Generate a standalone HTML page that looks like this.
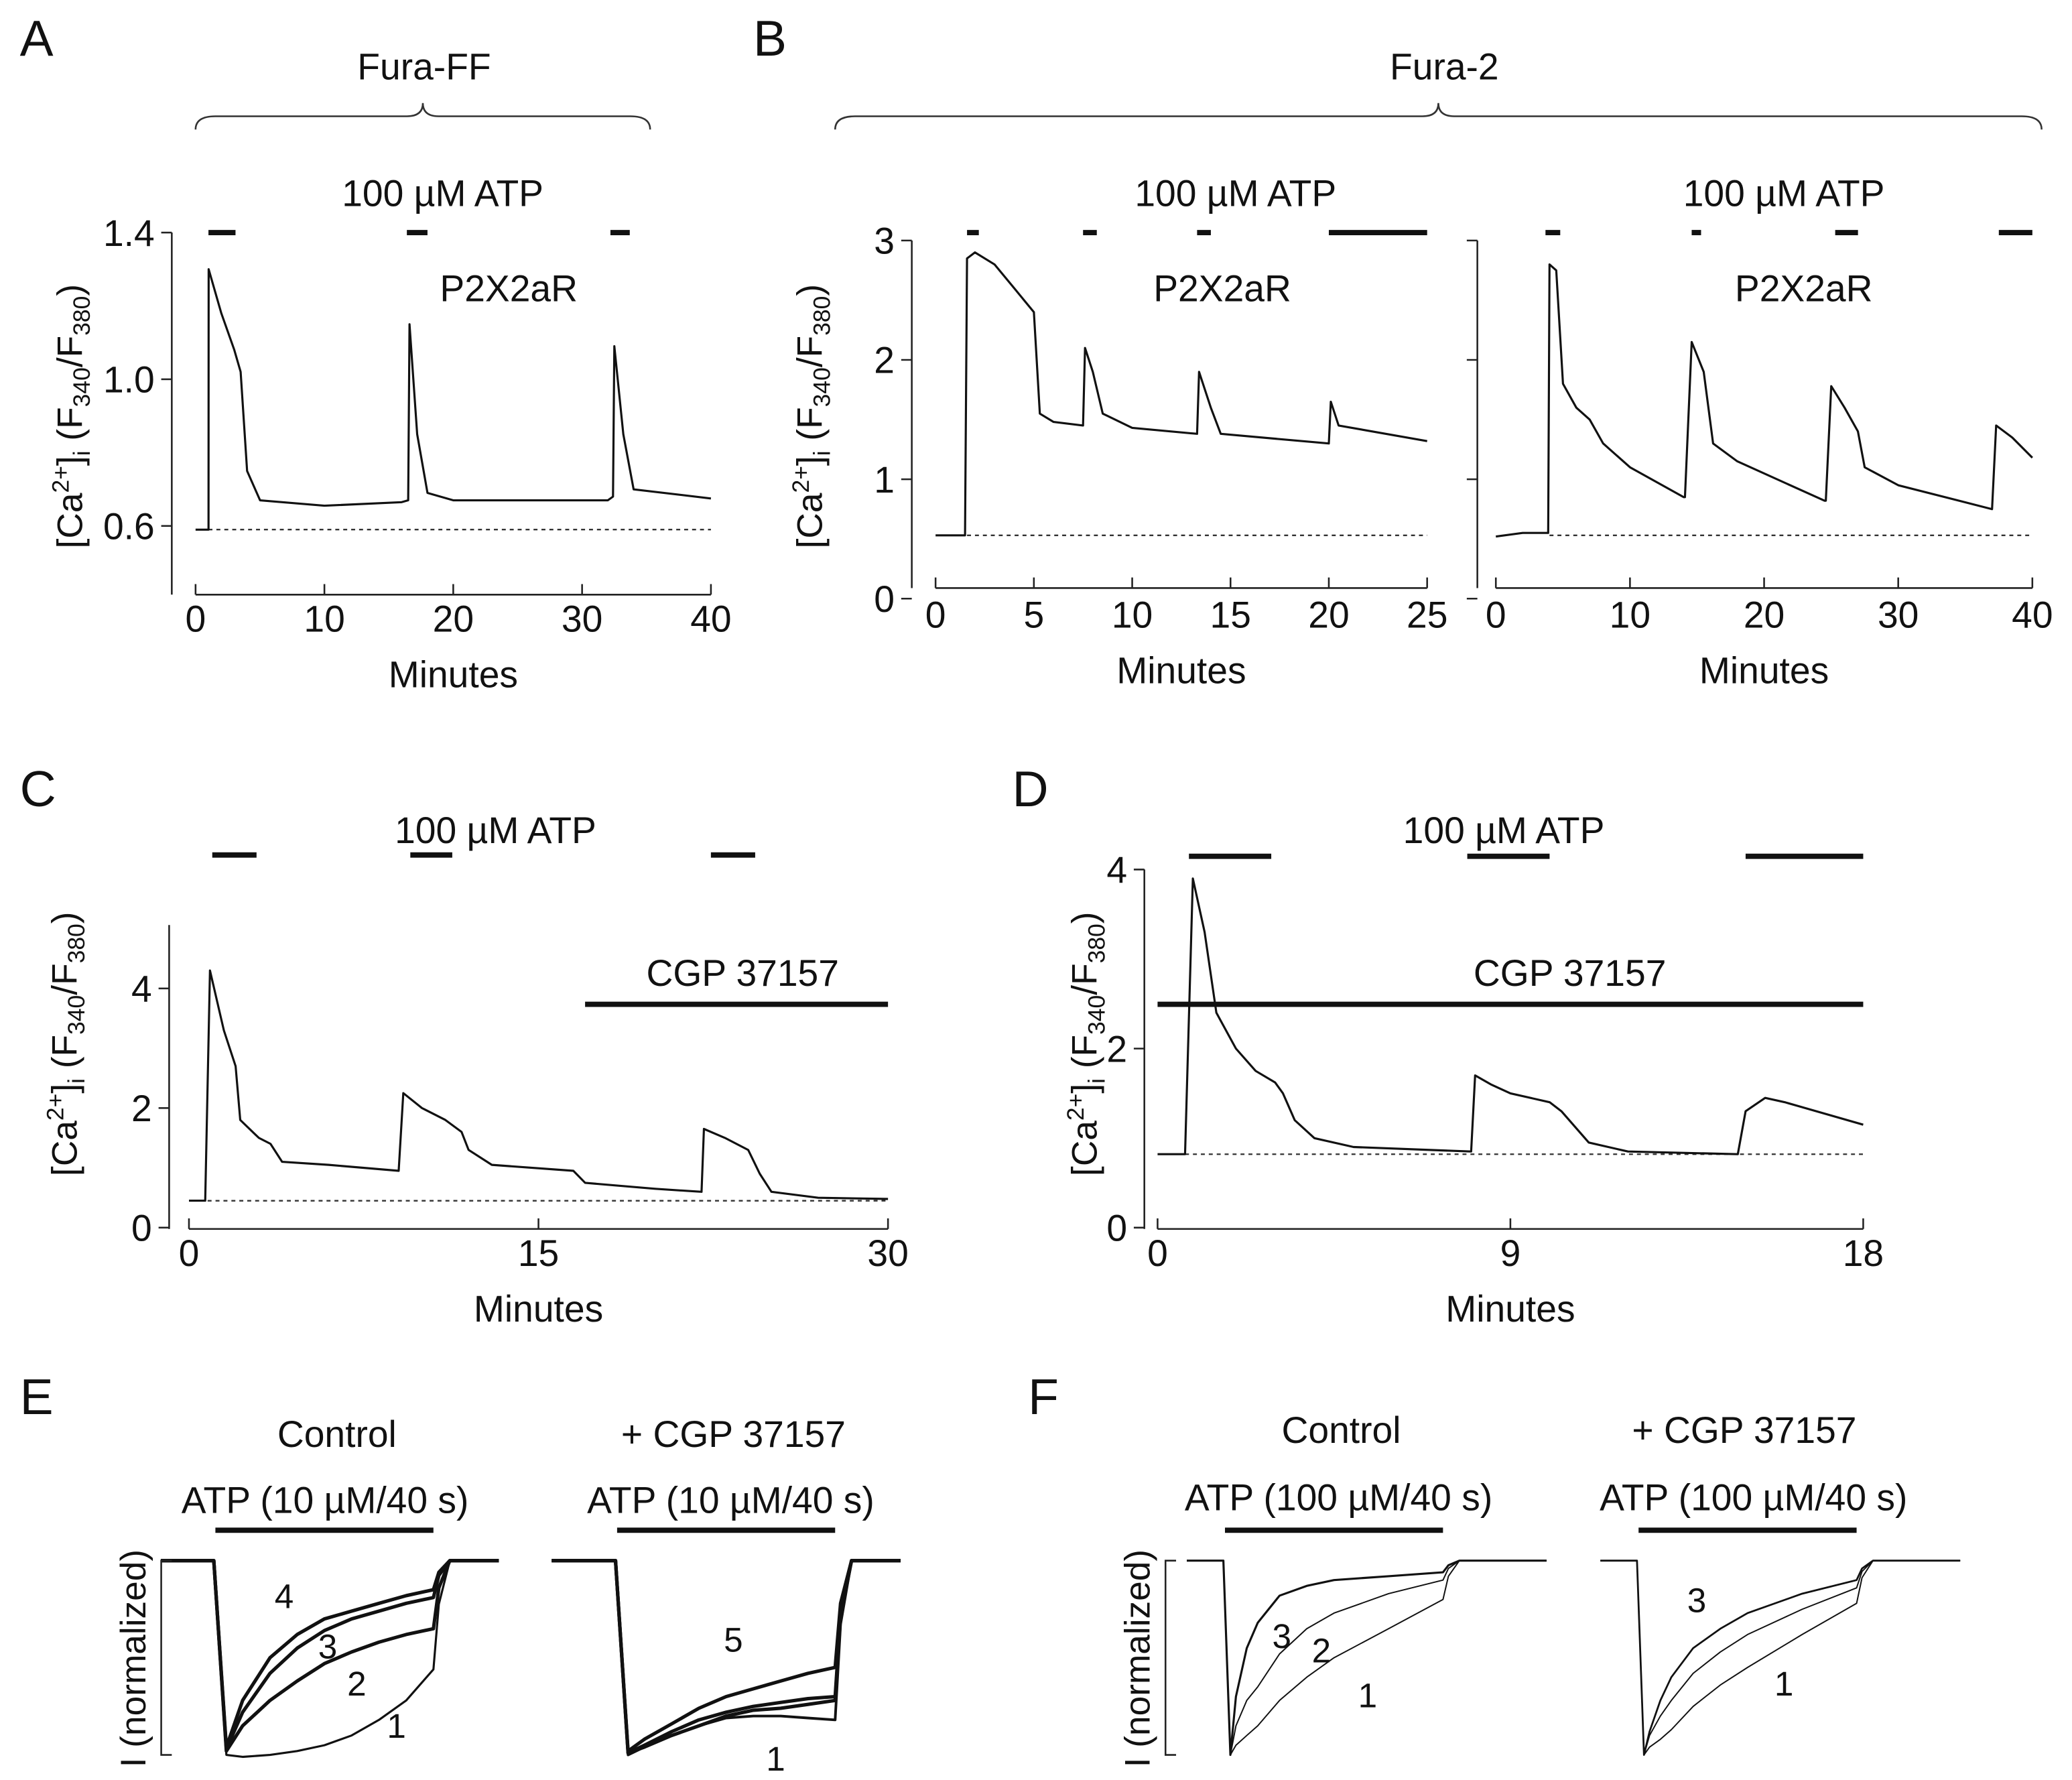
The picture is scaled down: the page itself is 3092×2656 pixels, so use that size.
<!DOCTYPE html>
<html><head><meta charset="utf-8"><style>
html,body{margin:0;padding:0;background:#fff}
svg{display:block}
text{font-family:"Liberation Sans",sans-serif;fill:#111}
</style></head><body>
<svg id="fig" width="3092" height="2656" viewBox="0 0 1568 1347" preserveAspectRatio="none" xmlns="http://www.w3.org/2000/svg">
<g id="root"></g>
</svg>
<script>
// ---------- DATA ----------
const aT=[0,1,1.02,2,3,3.5,4,5,10,16,16.5,16.6,17.2,18,20,32,32.4,32.5,33.2,34,40];
const aV=[0.59,0.59,1.30,1.18,1.08,1.02,0.75,0.67,0.655,0.665,0.67,1.15,0.85,0.69,0.67,0.67,0.68,1.09,0.85,0.70,0.675];
const aBars=[[1,3.1],[16.4,18],[32.2,33.7]];
const aXTicks=[0,10,20,30,40];
const aYTicks=[0.6,1.0,1.4];
const aYLabels=["0.6","1.0","1.4"];

const b1T=[0,1.5,1.6,2,3,4,5,5.3,6,7.5,7.6,8,8.5,10,13.3,13.4,14,14.5,20,20.1,20.5,25];
const b1V=[0.53,0.53,2.85,2.9,2.8,2.6,2.4,1.55,1.48,1.45,2.1,1.9,1.55,1.43,1.38,1.9,1.6,1.38,1.30,1.65,1.45,1.32];
const b1Bars=[[1.6,2.2],[7.5,8.2],[13.3,14],[20,25]];
const b1XTicks=[0,5,10,15,20,25];
const bYTicks=[0,1,2,3];

const b2T=[0,2,3.9,4,4.5,5,6,7,8,10,14,14.1,14.6,15.5,16.2,18,24.5,24.6,25,26,27,27.5,30,37,37.3,38.5,40];
const b2V=[0.52,0.55,0.55,2.8,2.75,1.8,1.6,1.5,1.3,1.1,0.85,0.85,2.15,1.9,1.3,1.15,0.82,0.82,1.78,1.6,1.4,1.1,0.95,0.75,1.45,1.35,1.18];
const b2Bars=[[3.7,4.8],[14.6,15.3],[25.3,27],[37.5,40]];
const b2XTicks=[0,10,20,30,40];

const cT=[0,0.7,0.9,1.5,2,2.2,3,3.5,4,6,9,9.2,10,11,11.7,12,13,16.5,17,20,22,22.1,23,24,24.5,25,27,30];
const cV=[0.45,0.45,4.3,3.3,2.7,1.8,1.5,1.4,1.1,1.05,0.95,2.25,2.0,1.8,1.6,1.3,1.05,0.95,0.75,0.65,0.6,1.65,1.5,1.3,0.9,0.6,0.5,0.48];
const cBars=[[1,2.9],[9.5,11.3],[22.4,24.3]];
const cXTicks=[0,15,30];
const cYTicks=[0,2,4];

const dT=[0,0.7,0.9,1.2,1.5,2,2.5,3,3.2,3.5,4,5,8,8.1,8.5,9,10,10.3,11,12,14.8,15,15.5,16,18];
const dV=[0.82,0.82,3.9,3.3,2.4,2.0,1.75,1.62,1.5,1.2,1.0,0.9,0.85,1.7,1.6,1.5,1.4,1.3,0.95,0.85,0.82,1.3,1.45,1.4,1.15];
const dBars=[[0.8,2.9],[7.9,10],[15,18]];
const dXTicks=[0,9,18];
const dYTicks=[0,2,4];

// current traces: time (s) vs normalized current
const eT=[0,2,5,10,15,20,25,30,35,40];
const e1c1=[-0.6,-1,-1.01,-1.0,-0.98,-0.95,-0.9,-0.82,-0.72,-0.56];
const e1c2=[-0.5,-0.98,-0.85,-0.72,-0.62,-0.53,-0.47,-0.42,-0.38,-0.35];
const e1c3=[-0.5,-0.97,-0.78,-0.58,-0.45,-0.36,-0.3,-0.26,-0.22,-0.19];
const e1c4=[-0.5,-0.96,-0.72,-0.5,-0.38,-0.3,-0.26,-0.22,-0.18,-0.15];
const e2c5=[-0.5,-0.98,-0.92,-0.84,-0.76,-0.7,-0.66,-0.62,-0.58,-0.55];
const e2c4=[-0.5,-0.99,-0.95,-0.88,-0.82,-0.78,-0.75,-0.73,-0.71,-0.7];
const e2c3=[-0.5,-0.99,-0.96,-0.9,-0.85,-0.8,-0.77,-0.76,-0.74,-0.72];
const e2c1=[-0.5,-1,-0.96,-0.9,-0.85,-0.81,-0.8,-0.8,-0.81,-0.82];
const fT=[0,1,2,4,6,10,15,20,30,40];
const f1c1=[-0.5,-1,-0.95,-0.9,-0.85,-0.72,-0.6,-0.5,-0.35,-0.2];
const f1c2=[-0.5,-1,-0.85,-0.72,-0.65,-0.48,-0.35,-0.27,-0.17,-0.1];
const f1c3=[-0.5,-1,-0.7,-0.45,-0.32,-0.18,-0.13,-0.1,-0.08,-0.06];
const f2c1=[-0.5,-1,-0.96,-0.92,-0.87,-0.75,-0.64,-0.55,-0.38,-0.22];
const f2c2=[-0.5,-1,-0.9,-0.8,-0.72,-0.58,-0.47,-0.38,-0.25,-0.14];
const f2c3=[-0.5,-1,-0.88,-0.72,-0.6,-0.45,-0.35,-0.27,-0.17,-0.1];

// ---------- DRAW ----------
const NS="http://www.w3.org/2000/svg";
const root=document.getElementById('root');
function el(tag,attrs,parent){const e=document.createElementNS(NS,tag);for(const k in attrs)e.setAttribute(k,attrs[k]);(parent||root).appendChild(e);return e;}
function txt(x,y,s,size,anchor,parent){const t=el('text',{x:x,y:y,'font-size':size,'text-anchor':anchor||'middle'},parent);t.textContent=s;return t;}
function scale(d0,d1,p0,p1){return v=>p0+(v-d0)*(p1-p0)/(d1-d0);}

function panel(o){
  const g=el('g',{});
  
  
  const X=scale(o.xmin,o.xmax,o.px0,o.px1), Y=scale(o.ymin,o.ymax,o.py0,o.py1);
  const ya=el('line',{x1:o.yaxX,x2:o.yaxX,y1:o.yaxTop,y2:o.xaxY,stroke:'#222','stroke-width':1.3},g);
  
  o.yt.forEach((v,i)=>{el('line',{x1:o.yaxX-8,x2:o.yaxX,y1:Y(v),y2:Y(v),stroke:'#222','stroke-width':1.3},g);
    if(o.yl){const t=txt(o.yaxX-13,Y(v)+10,o.yl[i],28,'end',g);}});
  const xa=el('line',{x1:X(o.xt[0]),x2:X(o.xt[o.xt.length-1]),y1:o.xaxY,y2:o.xaxY,stroke:'#222','stroke-width':1.3},g);
  
  o.xt.forEach(v=>{el('line',{x1:X(v),x2:X(v),y1:o.xaxY-8,y2:o.xaxY,stroke:'#222','stroke-width':1.3},g);
    const t=txt(X(v),o.xaxY+o.lo,String(v),28,'middle',g);});
  const xt=txt((X(o.xt[0])+X(o.xt[o.xt.length-1]))/2,o.xaxY+o.lo+42,'Minutes',28,'middle',g);
  
  const dl=el('line',{x1:X(o.dashFrom),x2:X(o.xmax),y1:Y(o.base),y2:Y(o.base),stroke:'#333','stroke-width':1.2,'stroke-dasharray':'3,3'},g);
  
  const pts=o.t.map((t,i)=>X(t).toFixed(1)+','+Y(o.v[i]).toFixed(1)).join(' ');
  const pl=el('polyline',{points:pts,fill:'none',stroke:'#111','stroke-width':1.6,'stroke-linejoin':'round'},g);
  
  o.bars.forEach(b=>{const r=el('line',{x1:X(b[0]),x2:X(b[1]),y1:o.barY,y2:o.barY,stroke:'#111','stroke-width':4},g);
    });
  if(o.cgp!==undefined){const r=el('line',{x1:X(o.cgp[0]),x2:X(o.cgp[1]),y1:760,y2:760,stroke:'#111','stroke-width':4},g);
    }
}

function ylabel(x,y){
  const t=el('text',{transform:`translate(${x},${y}) rotate(-90)`,'font-size':27,'text-anchor':'middle'});
  
  t.innerHTML='[Ca<tspan font-size="18" dy="-10">2+</tspan><tspan dy="10">]</tspan><tspan font-size="18" dy="6">i</tspan><tspan dy="-6"> (F</tspan><tspan font-size="18" dy="6">340</tspan><tspan dy="-6">/F</tspan><tspan font-size="18" dy="6">380</tspan><tspan dy="-6">)</tspan>';
}

panel({name:'panel-a',t:aT,v:aV,bars:aBars,xt:aXTicks,yt:aYTicks,yl:aYLabels,xmin:0,xmax:40,px0:148,px1:538,ymin:0.6,ymax:1.4,py0:398,py1:176,yaxX:130,yaxTop:176,xaxY:450,lo:28,base:0.59,dashFrom:1,barY:176});
panel({name:'panel-b-left',t:b1T,v:b1V,bars:b1Bars,xt:b1XTicks,yt:bYTicks,yl:["0","1","2","3"],xmin:0,xmax:25,px0:708,px1:1080,ymin:0,ymax:3,py0:453,py1:182,yaxX:690,yaxTop:182,xaxY:445,lo:30,base:0.53,dashFrom:1.6,barY:176});
panel({name:'panel-b-right',t:b2T,v:b2V,bars:b2Bars,xt:b2XTicks,yt:bYTicks,yl:null,xmin:0,xmax:40,px0:1132,px1:1538,ymin:0,ymax:3,py0:453,py1:182,yaxX:1118,yaxTop:182,xaxY:445,lo:30,base:0.53,dashFrom:4,barY:176});
panel({name:'panel-c',t:cT,v:cV,bars:cBars,xt:cXTicks,yt:cYTicks,yl:["0","2","4"],xmin:0,xmax:30,px0:143,px1:672,ymin:0,ymax:4,py0:929,py1:748,yaxX:128,yaxTop:700,xaxY:930,lo:28,base:0.45,dashFrom:0.8,barY:647,cgp:[17,30]});
panel({name:'panel-d',t:dT,v:dV,bars:dBars,xt:dXTicks,yt:dYTicks,yl:["0","2","4"],xmin:0,xmax:18,px0:876,px1:1410,ymin:0,ymax:4,py0:929,py1:658,yaxX:866,yaxTop:658,xaxY:930,lo:28,base:0.82,dashFrom:0.7,barY:648,cgp:[0,18]});
ylabel(62,315);ylabel(622,315);ylabel(58,790);ylabel(830,790);

function cpanel(name,x0,tStart,tEnd,series,width){
  const g=el('g',{});
  const X=v=>x0+v*4.125, Y=scale(0,-1,1181,1328);
  series.forEach((s,si)=>{
    let p=[[tStart,0],[-0.3,0]];
    s.t.forEach((t,i)=>{if(i>0)p.push([t,s.v[i]]);});
    p.push([41,s.v[s.v.length-1]*0.4],[43,0],[tEnd,0]);
    const pl=el('polyline',{points:p.map(q=>X(q[0]).toFixed(1)+','+Y(q[1]).toFixed(1)).join(' '),fill:'none',stroke:'#111','stroke-width':width[si],'stroke-linejoin':'round'},g);
    
  });
  const b=el('line',{x1:X(0),x2:X(40),y1:1158,y2:1158,stroke:'#111','stroke-width':4},g);
  
}
cpanel('panel-e-control',163,-10,52,[{t:eT,v:e1c1},{t:eT,v:e1c2},{t:eT,v:e1c3},{t:eT,v:e1c4}],[1.6,2.6,2.6,2.6]);
cpanel('panel-e-cgp',467,-12,52,[{t:eT,v:e2c5},{t:eT,v:e2c4},{t:eT,v:e2c3},{t:eT,v:e2c1}],[2.6,2.6,2.6,2]);
cpanel('panel-f-control',927,-7,59,[{t:fT,v:f1c1},{t:fT,v:f1c2},{t:fT,v:f1c3}],[1,1,1.6]);
cpanel('panel-f-cgp',1240,-7,59,[{t:fT,v:f2c1},{t:fT,v:f2c2},{t:fT,v:f2c3}],[1,1,1.4]);

[[122],[882]].forEach(a=>{const p=el('path',{d:`M${a[0]+8},1181 H${a[0]} V1328 H${a[0]+8}`,fill:'none',stroke:'#222','stroke-width':1.3});
  
  const t=el('text',{transform:`translate(${a[0]-12},1255) rotate(-90)`,'font-size':27,'text-anchor':'middle'});t.textContent='I (normalized)';
  });

function brace(x0,x1,y){const m=(x0+x1)/2;const p=el('path',{d:`M${x0},${y+10} Q${x0},${y} ${x0+15},${y} H${m-12} Q${m},${y} ${m},${y-10} Q${m},${y} ${m+12},${y} H${x1-15} Q${x1},${y} ${x1},${y+10}`,fill:'none',stroke:'#333','stroke-width':1.3});
  }
brace(148,492,88);brace(632,1545,88);

const labels=[
 [15,42,'A',38,'start','panel-label-a'],[570,42,'B',38,'start','panel-label-b'],[15,610,'C',38,'start','panel-label-c'],[766,610,'D',38,'start','panel-label-d'],
 [15,1070,'E',38,'start','panel-label-e'],[778,1070,'F',38,'start','panel-label-f'],
 [321,60,'Fura-FF',28,'middle','dye-label'],[1093,60,'Fura-2',28,'middle','dye-label'],
 [335,156,'100 µM ATP',28,'middle','stimulus-label'],[935,156,'100 µM ATP',28,'middle','stimulus-label'],[1350,156,'100 µM ATP',28,'middle','stimulus-label'],
 [375,638,'100 µM ATP',28,'middle','stimulus-label'],[1138,638,'100 µM ATP',28,'middle','stimulus-label'],
 [385,228,'P2X2aR',28,'middle','receptor-label'],[925,228,'P2X2aR',28,'middle','receptor-label'],[1365,228,'P2X2aR',28,'middle','receptor-label'],
 [562,746,'CGP 37157',28,'middle','cgp-label'],[1188,746,'CGP 37157',28,'middle','cgp-label'],
 [255,1095,'Control',28,'middle','condition-label'],[555,1095,'+ CGP 37157',28,'middle','condition-label'],
 [1015,1092,'Control',28,'middle','condition-label'],[1320,1092,'+ CGP 37157',28,'middle','condition-label'],
 [246,1145,'ATP (10 µM/40 s)',28,'middle','stimulus-label'],[553,1145,'ATP (10 µM/40 s)',28,'middle','stimulus-label'],
 [1013,1143,'ATP (100 µM/40 s)',28,'middle','stimulus-label'],[1327,1143,'ATP (100 µM/40 s)',28,'middle','stimulus-label'],
 [215,1217,'4',26,'middle','trace-number'],[248,1255,'3',26,'middle','trace-number'],[270,1283,'2',26,'middle','trace-number'],[300,1315,'1',26,'middle','trace-number'],
 [555,1250,'5',26,'middle','trace-number'],[587,1340,'1',26,'middle','trace-number'],
 [970,1247,'3',26,'middle','trace-number'],[1000,1258,'2',26,'middle','trace-number'],[1035,1292,'1',26,'middle','trace-number'],
 [1284,1220,'3',26,'middle','trace-number'],[1350,1283,'1',26,'middle','trace-number']
];
labels.forEach(l=>{const t=txt(l[0],l[1],l[2],l[3],l[4]);});
</script>
</body></html>
